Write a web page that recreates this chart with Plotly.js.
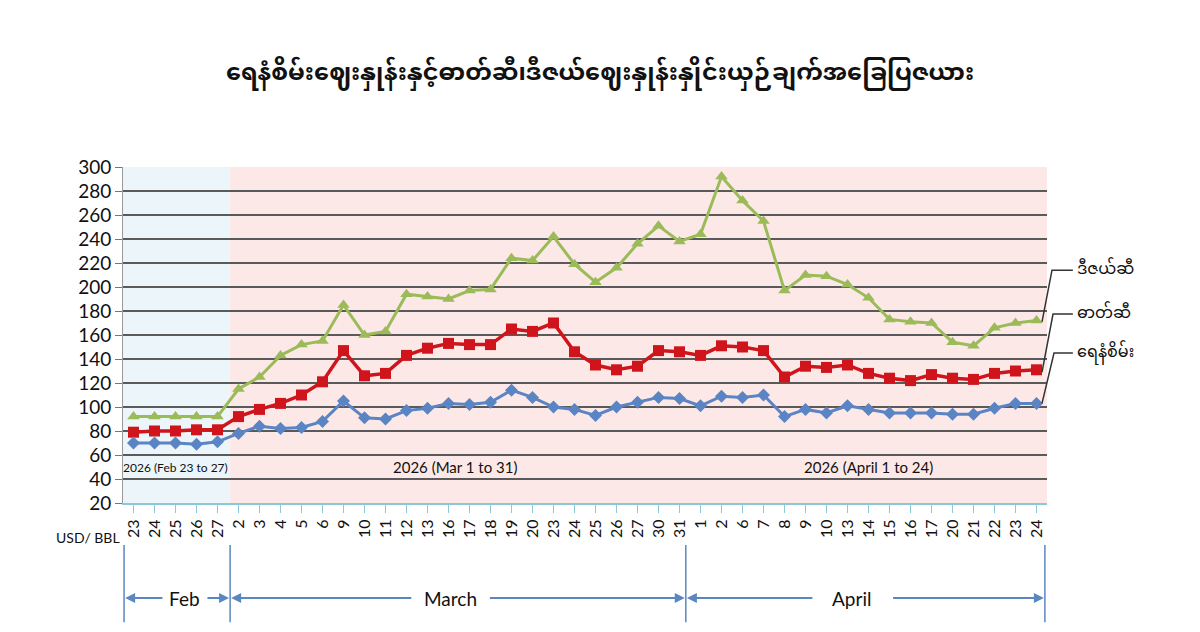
<!DOCTYPE html>
<html>
<head>
<meta charset="utf-8">
<script src="https://cdn.plot.ly/plotly-3.0.1.min.js"></script>
<style>html,body{margin:0;padding:0;background:#fff;}#chart{width:1200px;height:632px;}</style>
</head>
<body>
<div id="chart"></div>
<script>
// ---- data ----
const dayLabels = ["23","24","25","26","27",
  "2","3","4","5","6","9","10","11","12","13","16","17","18","19","20","23","24","25","26","27","30","31",
  "1","2","6","7","8","9","10","13","14","15","16","17","20","21","22","23","24"];
const dieselPrice = [92,92,92,92,92,
  115,125,143,152,155,185,160,163,194,192,190,197,198,224,222,242,219,204,216,236,251,238,
  244,292,272,255,197,210,209,202,191,173,171,170,154,151,166,170,172];
const petrolPrice = [79,80,80,81,81,
  92,98,103,110,121,147,126,128,143,149,153,152,152,165,163,170,146,135,131,134,147,146,
  143,151,150,147,125,134,133,135,128,124,122,127,124,123,128,130,131];
const crudePrice = [70,70,70,69,71,
  78,84,82,83,88,105,91,90,97,99,103,102,104,114,108,100,98,93,100,104,108,107,
  101,109,108,110,92,98,95,101,98,95,95,95,94,94,99,103,103];
const seriesNames = ["ဒီဇယ်ဆီ","ဓာတ်ဆီ","ရေနံစိမ်း"];
const periodLabels = ["2026 (Feb 23 to 27)","2026 (Mar 1 to 31)","2026 (April 1 to 24)"];
const monthLabels = ["Feb","March","April"];
const titleText = "ရေနံစိမ်းဈေးနှုန်းနှင့်ဓာတ်ဆီ၊ဒီဇယ်ဈေးနှုန်းနှိုင်းယှဉ်ချက်အခြေပြဇယား";

const xIdx = dayLabels.map((_, i) => i);
const myFont = "'Noto Sans Myanmar', Padauk, 'Myanmar Text', 'Noto Sans', sans-serif";
const numFont = "Lato, 'Open Sans', sans-serif";
const arrowCol = "#5b87c0";

const traces = [
  {x: xIdx, y: dieselPrice, name: seriesNames[0], mode: "lines+markers",
   line: {color: "#9bbb59", width: 3}, marker: {symbol: "triangle-up", size: 11, color: "#9bbb59"}},
  {x: xIdx, y: petrolPrice, name: seriesNames[1], mode: "lines+markers",
   line: {color: "#d0141c", width: 3.5}, marker: {symbol: "square", size: 11, color: "#d0141c"}},
  {x: xIdx, y: crudePrice, name: seriesNames[2], mode: "lines+markers",
   line: {color: "#5b84c4", width: 3}, marker: {symbol: "diamond", size: 10, color: "#5b84c4"}}
];

const nFeb = 5, nMar = 22;
const shapes = [
  {type: "rect", xref: "x", yref: "paper", x0: -0.5, x1: nFeb - 0.4, y0: 0, y1: 1,
   fillcolor: "#ebf5fa", line: {width: 0}, layer: "below"},
  {type: "rect", xref: "x", yref: "paper", x0: nFeb - 0.4, x1: dayLabels.length - 0.5, y0: 0, y1: 1,
   fillcolor: "#fce9e7", line: {width: 0}, layer: "below"}
];
// month separator lines below the axis
const sepX = [-0.45, nFeb - 0.4, nFeb + nMar - 0.7, dayLabels.length - 0.6];
sepX.forEach(v => shapes.push({type: "line", xref: "x", yref: "paper", x0: v, x1: v, y0: -0.125, y1: -0.355,
  line: {color: arrowCol, width: 1.5}}));
// leader lines to right labels
const leaders = [
  [dieselPrice[43] - 1, 214],
  [petrolPrice[43] - 2, 177.5],
  [crudePrice[43], 145]
];
const leadX = [[0.9946, 1.0054, 1.028], [0.9946, 1.0065, 1.028], [0.9946, 1.0076, 1.028]];
leaders.forEach((p, i) => shapes.push({type: "path", xref: "paper", yref: "y",
  path: `M ${leadX[i][0]},${p[0]} L ${leadX[i][1]},${p[1]} L ${leadX[i][2]},${p[1]}`,
  line: {color: "#333", width: 1.5}}));

const annotations = [];
// period labels inside plot
const periodX = [2.0, 15.3, 35.0];
const periodSize = [12, 15, 15];
periodLabels.forEach((t, i) => annotations.push({x: periodX[i], y: 50, xref: "x", yref: "y", text: t,
  xanchor: "center", yanchor: "middle", showarrow: false,
  font: {family: numFont, size: periodSize[i], color: "#111"}}));
// right side labels
const labY = [214, 177.5, 145];
seriesNames.forEach((t, i) => annotations.push({x: 1.03, y: labY[i], xref: "paper", yref: "y", text: t,
  xanchor: "left", yanchor: "middle", showarrow: false, font: {family: myFont, size: 16, color: "#111"}}));
// units
annotations.push({x: -0.038, y: -0.104, xref: "paper", yref: "paper", text: "USD/ BBL", showarrow: false,
  xanchor: "center", yanchor: "middle", font: {family: numFont, size: 14, color: "#111"}});
// month labels and arrows
const monthX = [2.45, 15.1, 34.2];
const arrowPairs = [
  [[1.45, -0.40], [3.45, 4.55]],
  [[13.3, 4.65], [16.9, 26.25]],
  [[32.4, 26.35], [36.1, 43.35]]
];
const yRow = -0.283;
monthLabels.forEach((t, i) => {
  annotations.push({x: monthX[i], y: yRow, xref: "x", yref: "paper", text: t, showarrow: false,
    xanchor: "center", yanchor: "middle", font: {family: numFont, size: 19, color: "#111"}});
  arrowPairs[i].forEach(pr => annotations.push({x: pr[1], y: yRow, xref: "x", yref: "paper",
    ax: pr[0], axref: "x", ay: 0, ayref: "pixel", text: "", showarrow: true,
    arrowhead: 2, arrowsize: 1, arrowwidth: 2, arrowcolor: arrowCol}));
});

const layout = {
  width: 1200, height: 632,
  margin: {l: 123, r: 153, t: 167, b: 129},
  paper_bgcolor: "#ffffff", plot_bgcolor: "rgba(0,0,0,0)",
  showlegend: false,
  title: {text: "<b>" + titleText + "</b>", x: 0.5, xanchor: "center", y: 0.886, yanchor: "middle",
    font: {family: myFont, size: 24, color: "#111"}},
  xaxis: {range: [-0.5, dayLabels.length - 0.5], tickmode: "array", tickvals: xIdx, ticktext: dayLabels,
    tickangle: -90, showgrid: false, zeroline: false, showline: true, linecolor: "#8cc8da", linewidth: 2,
    ticks: "outside", ticklen: 8, tickcolor: "#8cc8da", tickfont: {family: numFont, size: 16, color: "#111"}},
  yaxis: {range: [20, 300], tickvals: [20,40,60,80,100,120,140,160,180,200,220,240,260,280,300],
    showgrid: true, gridcolor: "#5a5a5a", gridwidth: 1.5, zeroline: false, showline: true, linecolor: "#999",
    ticks: "outside", ticklen: 7, tickcolor: "#777", tickfont: {family: numFont, size: 19, color: "#111"}},
  shapes: shapes,
  annotations: annotations
};

Plotly.newPlot("chart", traces, layout, {displayModeBar: false, responsive: false});
</script>
</body>
</html>
